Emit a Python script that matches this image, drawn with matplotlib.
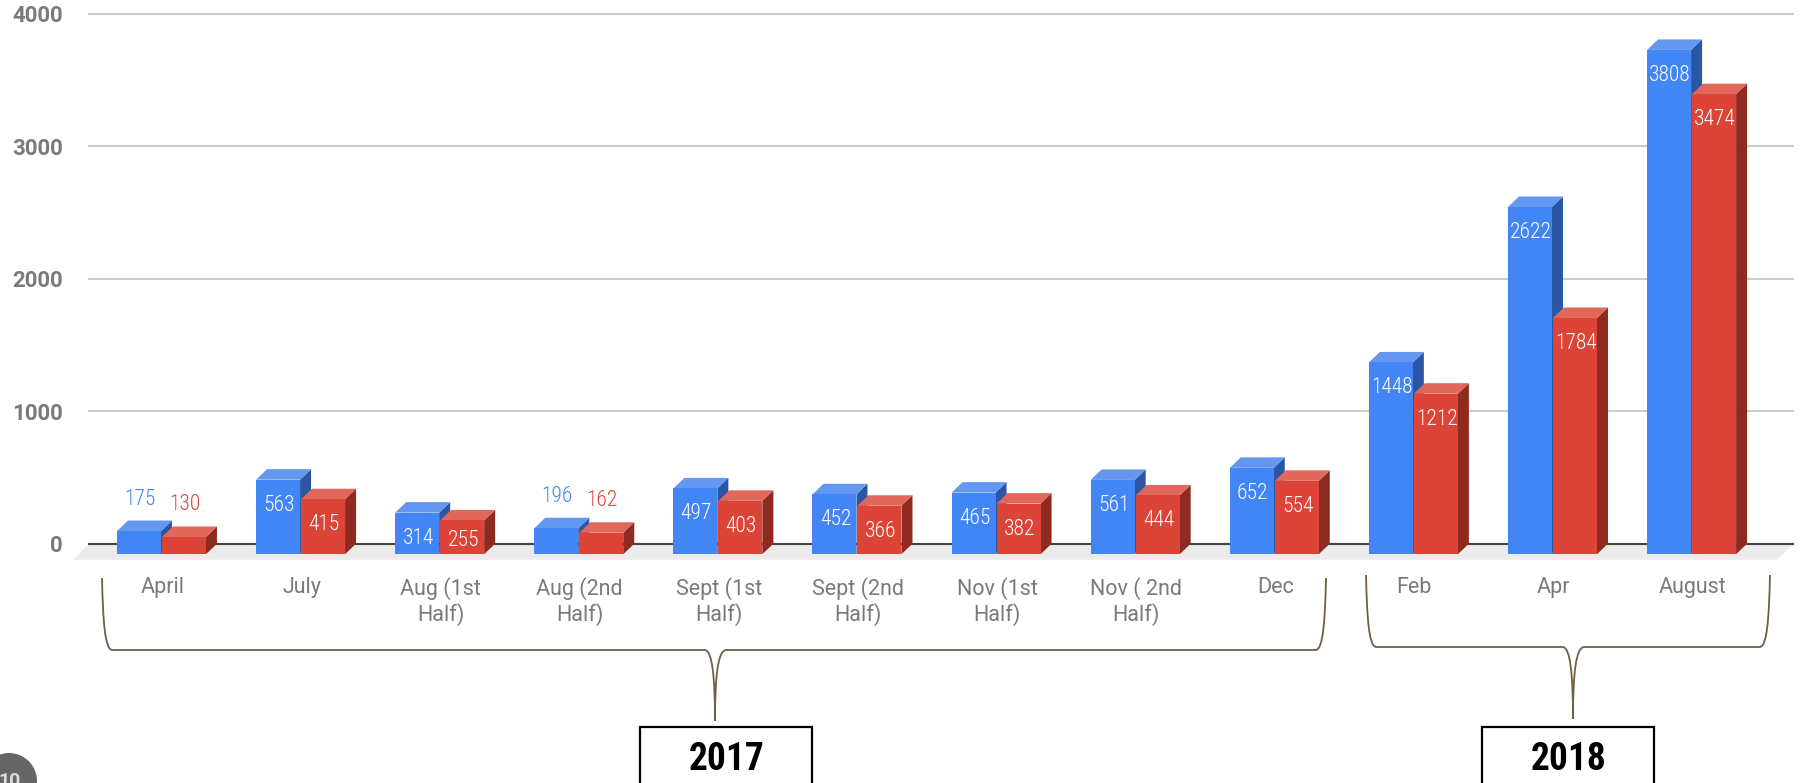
import matplotlib
matplotlib.use("Agg")
import matplotlib.pyplot as plt
from matplotlib.patches import Polygon, PathPatch, Rectangle, Circle
from matplotlib.path import Path

categories = ["April", "July", "Aug (1st\nHalf)", "Aug (2nd\nHalf)", "Sept (1st\nHalf)",
              "Sept (2nd\nHalf)", "Nov (1st\nHalf)", "Nov ( 2nd\nHalf)", "Dec",
              "Feb", "Apr", "August"]
blue_values = [175, 563, 314, 196, 497, 452, 465, 561, 652, 1448, 2622, 3808]
red_values = [130, 415, 255, 162, 403, 366, 382, 444, 554, 1212, 1784, 3474]
y_ticks = [0, 1000, 2000, 3000, 4000]
years = ["2017", "2018"]

W, H = 1803, 783
LEFT, RIGHT, TOP, BASE = 89, 1793, 14, 543.7
X0, X1 = -0.6, 11.65
PX = (RIGHT - LEFT) / (X1 - X0)
PY = (BASE - TOP) / 4000.0
DEPTH_X, DEPTH_Y = 11 / PX, 10.5 / PY
BAR_W = 44 / PX
GAP = 0.5 / PX

BLUE = ("#4285F4", "#6497F0", "#2A56A5")
RED = ("#DB4437", "#E2675B", "#8E2A20")
GREY = "#7A7A7A"
BROWN = "#6E6047"
NARROW = ["Roboto Condensed", "Roboto", "DejaVu Sans"]

fig = plt.figure(figsize=(W / 100, H / 100), dpi=100, facecolor="white")
ax = fig.add_axes([LEFT / W, 1 - BASE / H, (RIGHT - LEFT) / W, (BASE - TOP) / H])
ax.set_xlim(X0, X1)
ax.set_ylim(0, 4000)
for s in ax.spines.values():
    s.set_visible(False)
ax.set_axisbelow(True)
ax.set_yticks(y_ticks, [str(v) for v in y_ticks], family="Roboto", weight="bold",
              fontsize=16, color=GREY)
ax.set_xticks([i - DEPTH_X + 1 / PX for i in range(len(categories))], categories,
              family="Roboto", fontsize=15.5, color=GREY, linespacing=1.185)
ax.tick_params(axis="y", length=0, pad=19)
ax.tick_params(axis="x", length=0, pad=24)
ax.grid(axis="y", color="#CCCCCC", linewidth=1.5, clip_on=False)
ax.xaxis.grid(False)
for line in ax.get_ygridlines():
    line.set_clip_on(False)

# floor and base line
ax.add_patch(Polygon([(X0, 0), (X1, 0), (X1 - 16 / PX, -16 / PY), (X0 - 16 / PX, -16 / PY)],
                     closed=True, facecolor="#EBEBEB", edgecolor="none", clip_on=False, zorder=1.5))
ax.plot([X0, X1], [0, 0], color="#444444", linewidth=1.5, clip_on=False, zorder=1.8)


def bar3d(x_left, value, cols):
    """x_left/value are the back plane corner; the front face is shifted forward."""
    xl, xr = x_left - DEPTH_X, x_left - DEPTH_X + BAR_W
    yb, yt = -DEPTH_Y, value - DEPTH_Y
    kw = dict(closed=True, edgecolor="none", clip_on=False, zorder=3)
    ax.add_patch(Polygon([(xr, yb), (xr + DEPTH_X, 0), (xr + DEPTH_X, value), (xr, yt)],
                         facecolor=cols[2], **kw))
    ax.add_patch(Polygon([(xl, yt), (xr, yt), (xr + DEPTH_X, value), (xl + DEPTH_X, value)],
                         facecolor=cols[1], **kw))
    ax.add_patch(Polygon([(xl, yb), (xr, yb), (xr, yt), (xl, yt)], facecolor=cols[0], **kw))
    return (xl + xr) / 2, yt


def value_label(xc, yt, v, color):
    xc = xc + 1 / PX
    if v < 200:
        ax.text(xc, yt + 32 / PY, str(v), color=color, ha="center", va="center",
                family=NARROW, fontsize=15.5, weight="light", zorder=4, clip_on=False)
    else:
        y = max(yt - 25.5 / PY, (BASE - 540) / PY)
        ax.text(xc, y, str(v), color="white", ha="center", va="center",
                family=NARROW, fontsize=15.5, weight="light", zorder=4, clip_on=False)


for i, (b, r) in enumerate(zip(blue_values, red_values)):
    xc, yt = bar3d(i - BAR_W - GAP, b, BLUE)
    value_label(xc, yt, b, BLUE[0])
    xc, yt = bar3d(i + GAP, r, RED)
    value_label(xc, yt, r, RED[0])

# annotation overlay, in pixel coordinates of the slide
ov = fig.add_axes([0, 0, 1, 1], zorder=5)
ov.set_xlim(0, W)
ov.set_ylim(H, 0)
ov.axis("off")
ov.patch.set_alpha(0)


def brace(xl, xr, cx, ytop, ybot, ytip, cw_l=10, cw_r=11):
    v = [(xl, ytop), (xl + 1, ybot - 28), (xl + 3, ybot - 1), (xl + 10, ybot),
         (cx - cw_l, ybot),
         (cx - 3, ybot + 1), (cx, ybot + 25), (cx, ytip),
         (cx, ybot + 25), (cx + 3, ybot + 1), (cx + cw_r, ybot),
         (xr - 10, ybot),
         (xr - 3, ybot - 1), (xr - 1, ybot - 28), (xr, ytop)]
    c = [Path.MOVETO, Path.CURVE4, Path.CURVE4, Path.CURVE4, Path.LINETO,
         Path.CURVE4, Path.CURVE4, Path.CURVE4, Path.CURVE4, Path.CURVE4, Path.CURVE4,
         Path.LINETO, Path.CURVE4, Path.CURVE4, Path.CURVE4]
    ov.add_patch(PathPatch(Path(v, c), facecolor="none", edgecolor=BROWN, linewidth=1.3))


brace(102, 1326, 715, 578, 650, 721)
brace(1366, 1770, 1573, 575, 647, 719)

for (x0, x1), label in zip([(640, 812), (1482, 1654)], years):
    ov.add_patch(Rectangle((x0, 727), x1 - x0, 70, facecolor="white", edgecolor="black",
                           linewidth=1.6, clip_on=True))
    ov.text((x0 + x1) / 2 + 0.5, 759, label, ha="center", va="center", family=NARROW,
            weight="bold", fontsize=27, color="black")

# page badge
ov.add_patch(Circle((9, 781), 28, facecolor="#666666", edgecolor="none"))
ov.text(9, 781, "10", ha="center", va="center", family="Roboto", weight="bold",
        fontsize=14, color="#DDDDDD", clip_on=True)

fig.savefig("out.png", dpi=100, facecolor="white")
